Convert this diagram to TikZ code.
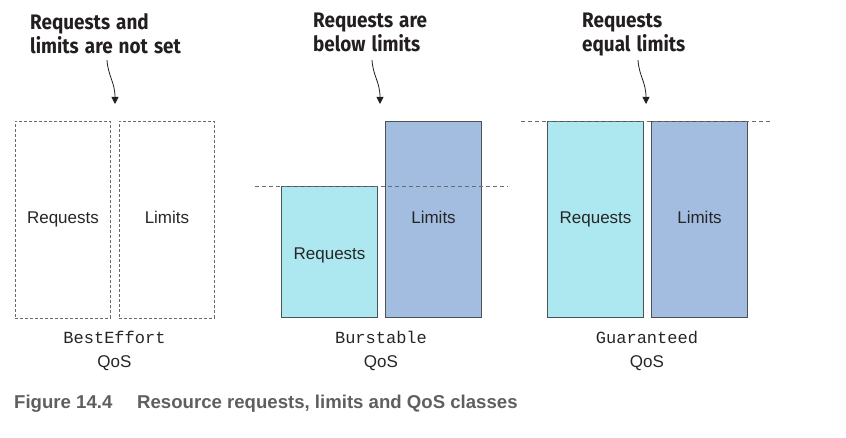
\documentclass[tikz,border=0pt]{standalone}
\usepackage{fontspec}
\setmainfont{Liberation Sans}
\newfontfamily\headfont[FakeStretch=0.9,WordSpace=1.35]{Fira Sans}
\newfontfamily\codefont{Liberation Mono}
\usetikzlibrary{arrows.meta}
\definecolor{reqcol}{HTML}{ADE8F1}
\definecolor{limcol}{HTML}{A3BDE1}
\definecolor{edgecol}{HTML}{4D5257}
\definecolor{capcol}{HTML}{5F5F5F}
\definecolor{headcol}{HTML}{231F20}
\begin{document}
\begin{tikzpicture}[x=1pt,y=-1pt,
  bar/.style={draw=edgecol, line width=1.1pt, anchor=north west, minimum width=96pt,
    inner sep=0pt, font=\fontsize{17}{20}\selectfont, text=black!85,
    text height=10pt, text depth=3pt},
  dashbar/.style={draw=edgecol!85, line width=0.9pt, dash pattern=on 3pt off 2pt,
    anchor=north west, minimum width=95pt, minimum height=197pt,
    inner sep=0pt, font=\fontsize{17}{20}\selectfont, text=black!85,
    text height=10pt, text depth=3pt},
  level/.style={draw=edgecol!85, line width=0.9pt, dash pattern=on 4pt off 3pt},
  head/.style={font=\headfont\bfseries\fontsize{21}{24}\selectfont, text=headcol,
    align=left, anchor=north west, inner sep=0pt},
  pointer/.style={draw=headcol, line width=0.8pt, -{Triangle[width=7pt,length=7pt]}},
  cls/.style={font=\codefont\fontsize{17}{20}\selectfont, text=black!85, anchor=base, inner sep=0pt},
  qos/.style={font=\fontsize{17}{20}\selectfont, text=black!85, anchor=base, inner sep=0pt},
  captext/.style={font=\bfseries\fontsize{18.6}{22}\selectfont, text=capcol, anchor=base west, inner sep=0pt}
]
\useasboundingbox (0,0) rectangle (846,438);

% headings
\node[head] (t1) at (30,13) {Requests and\\limits are not set};
\node[head] (t2) at (313,13) {Requests are\\below limits};
\node[head] (t3) at (582,13) {Requests\\equal limits};

% pointers
\coordinate (p1s) at (107,60);  \coordinate (p1e) at (115,104);
\coordinate (p2s) at (372,60);  \coordinate (p2e) at (380,104);
\coordinate (p3s) at (638,60);  \coordinate (p3e) at (646,104);
\draw[pointer] (p1s) .. controls (108,76) and (115,82) .. (p1e);
\draw[pointer] (p2s) .. controls (373,76) and (380,82) .. (p2e);
\draw[pointer] (p3s) .. controls (639,76) and (646,82) .. (p3e);

% BestEffort
\node[dashbar] (beReq) at (15,121) {Requests};
\node[dashbar] (beLim) at (119,121) {Limits};

% Burstable
\node[bar, fill=reqcol, minimum height=131pt, text height=18pt] (buReq) at (281,186) {Requests};
\node[bar, fill=limcol, minimum height=196pt] (buLim) at (385,121) {Limits};
\draw[level] (255,186) -- (508,186);

% Guaranteed
\node[bar, fill=reqcol, minimum height=196pt] (guReq) at (547,121) {Requests};
\node[bar, fill=limcol, minimum height=196pt] (guLim) at (651,121) {Limits};
\draw[level] (521,121) -- (770,121);

% class labels
\node[cls] (beName) at (114.5,344) {BestEffort};
\node[qos] (beQos) at (114.5,367) {QoS};
\node[cls] (buName) at (381,344) {Burstable};
\node[qos] (buQos) at (381,367) {QoS};
\node[cls] (guName) at (647,344) {Guaranteed};
\node[qos] (guQos) at (647,367) {QoS};

% caption
\node[captext] (capNum) at (14,408) {Figure 14.4};
\node[captext] (capText) at (137,408) {Resource requests, limits and QoS classes};
\end{tikzpicture}
\end{document}
